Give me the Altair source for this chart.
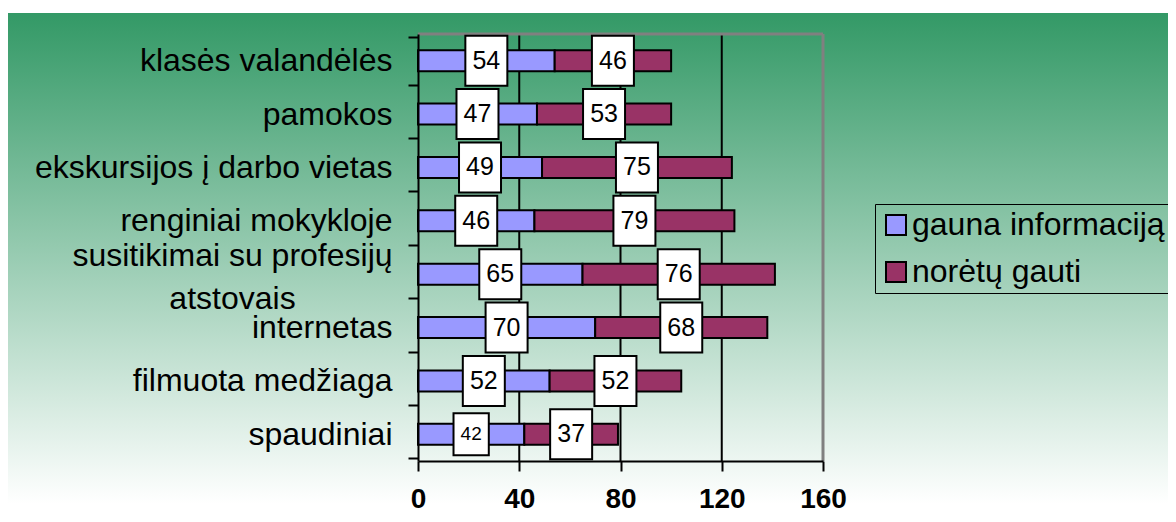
import altair as alt
import pandas as pd

categories = [
    "klasės valandėlės",
    "pamokos",
    "ekskursijos į darbo vietas",
    "renginiai mokykloje",
    "susitikimai su profesijų atstovais",
    "internetas",
    "filmuota medžiaga",
    "spaudiniai",
]
series_names = ["gauna informaciją", "norėtų gauti"]
gauna = [54, 47, 49, 46, 65, 70, 52, 42]
noretu = [46, 53, 75, 79, 76, 68, 52, 37]
x_ticks = [0, 40, 80, 120, 160]

rows = []
for c, a, b in zip(categories, gauna, noretu):
    rows.append({"cat": c, "series": series_names[0], "value": a, "start": 0, "end": a})
    rows.append({"cat": c, "series": series_names[1], "value": b, "start": a, "end": a + b})
df = pd.DataFrame(rows)
df["mid"] = (df["start"] + df["end"]) / 2
grid_df = pd.DataFrame({"v": x_ticks[1:-1]})

FONT = "Liberation Sans"
W, H = 405, 427
PAD = {"left": 410, "top": 26, "right": 345, "bottom": 53}
MULTI = "datum.value == 'susitikimai su profesijų atstovais'"

ycat = alt.Y(
    "cat:N",
    sort=categories,
    title=None,
    axis=alt.Axis(
        tickBand="extent",
        tickSize=10,
        tickWidth=2,
        tickColor="black",
        domainColor="black",
        domainWidth=2,
        labelFontSize=32,
        labelFont=FONT,
        labelColor="black",
        labelLimit=0,
        labelLineHeight=43,
        labelExpr=MULTI + " ? ['susitikimai su profesijų', 'atstovais'] : datum.label",
        labelAlign={"condition": {"test": MULTI, "value": "center"}, "value": "right"},
        labelPadding={"condition": {"test": MULTI, "value": 176}, "value": 16},
        labelOffset={"condition": {"test": MULTI, "value": -19}, "value": 0},
        grid=False,
        zindex=1,
    ),
)

xscale = alt.Scale(domain=[0, 160], nice=False)

background = alt.Chart(pd.DataFrame({"a": [0]})).mark_rect(
    color=alt.Gradient(
        gradient="linear",
        stops=[
            alt.GradientStop(color="#339966", offset=0),
            alt.GradientStop(color="#ffffff", offset=1),
        ],
        x1=0, x2=0, y1=0, y2=1,
    )
).encode(
    x=alt.value(-410), x2=alt.value(760), y=alt.value(-21), y2=alt.value(470)
)

grid = alt.Chart(grid_df).mark_rule(color="black", strokeWidth=2).encode(
    x=alt.X("v:Q", scale=xscale)
)
right_border = alt.Chart(pd.DataFrame({"v": [x_ticks[-1]]})).mark_rule(color="#808080", strokeWidth=3).encode(
    x=alt.X("v:Q", scale=xscale)
)
top_border = alt.Chart(pd.DataFrame({"a": [0]})).mark_rule(color="#808080", strokeWidth=3).encode(
    y=alt.value(0)
)

bars = alt.Chart(df).mark_bar(size=21, stroke="black", strokeWidth=2).encode(
    y=ycat,
    x=alt.X(
        "start:Q",
        scale=xscale,
        title=None,
        axis=alt.Axis(
            values=x_ticks,
            grid=False,
            tickSize=10,
            tickWidth=2,
            tickColor="black",
            domainColor="black",
            domainWidth=2,
            labelFontSize=28,
            labelFontWeight="bold",
            labelFont=FONT,
            labelColor="black",
            labelPadding=14,
            labelFlush=False,
            zindex=1,
        ),
    ),
    x2="end:Q",
    color=alt.Color(
        "series:N",
        scale=alt.Scale(domain=series_names, range=["#9999FF", "#993366"]),
        legend=alt.Legend(
            title=None,
            orient="none",
            legendX=457,
            legendY=170,
            strokeColor="black",
            padding=5,
            symbolType="square",
            symbolSize=400,
            symbolStrokeColor="black",
            symbolStrokeWidth=2,
            labelFontSize=32,
            labelFont=FONT,
            labelColor="black",
            labelLimit=0,
            rowPadding=15,
            labelOffset=0,
            zindex=2,
        ),
    ),
)

small_test = "datum.cat == 'spaudiniai' && datum.series == 'gauna informaciją'"

boxes = alt.Chart(df).mark_point(
    shape="M-0.84,-1H0.84V1H-0.84Z",
    filled=True,
    fill="white",
    stroke="black",
    strokeWidth=2,
    opacity=1,
).encode(
    y=alt.Y("cat:N", sort=categories),
    x=alt.X("mid:Q", scale=xscale),
    size=alt.condition(small_test, alt.value(1764), alt.value(2500)),
)

texts = alt.Chart(df).mark_text(font=FONT, color="black", baseline="middle", align="center").encode(
    y=alt.Y("cat:N", sort=categories),
    x=alt.X("mid:Q", scale=xscale),
    text="value:Q",
    size=alt.condition(small_test, alt.value(19), alt.value(25)),
)

chart = alt.layer(background, grid, right_border, top_border, bars, boxes, texts).properties(
    width=W,
    height=H,
    autosize=alt.AutoSizeParams(type="none"),
    padding=PAD,
).configure_view(stroke=None).configure(background="white")

chart.save("out.html", embed_options={"renderer": "svg", "actions": False})
